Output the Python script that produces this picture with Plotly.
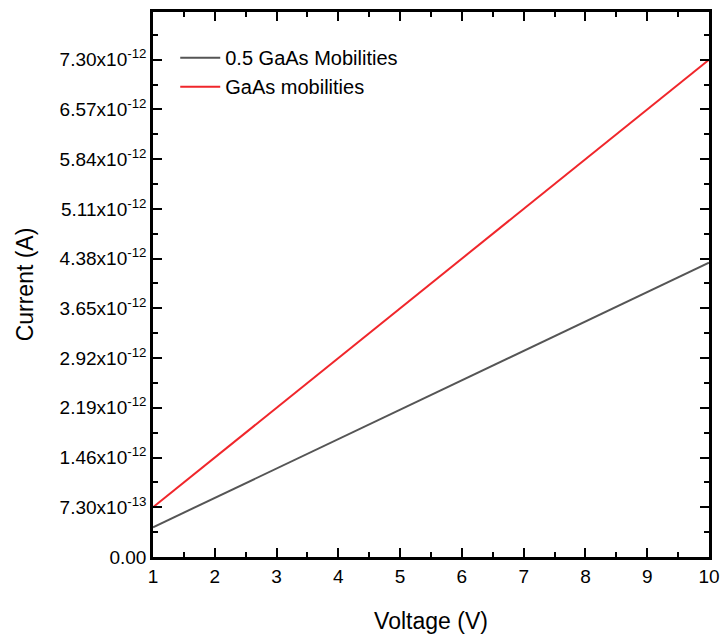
import plotly.graph_objects as go

# Bias voltage sweep (V)
voltage = [1, 2, 3, 4, 5, 6, 7, 8, 9, 10]

# Current (A) for the two mobility models
current_half_mobility = [0.436e-12, 0.868e-12, 1.299e-12, 1.731e-12, 2.162e-12,
                         2.594e-12, 3.025e-12, 3.457e-12, 3.888e-12, 4.320e-12]
current_gaas_mobility = [0.73e-12, 1.46e-12, 2.19e-12, 2.92e-12, 3.65e-12,
                         4.38e-12, 5.11e-12, 5.84e-12, 6.57e-12, 7.30e-12]

series_names = ["0.5 GaAs Mobilities", "GaAs mobilities"]

# Y-axis tick positions and labels
y_tick_vals = [0.0, 0.73e-12, 1.46e-12, 2.19e-12, 2.92e-12, 3.65e-12,
               4.38e-12, 5.11e-12, 5.84e-12, 6.57e-12, 7.30e-12]
y_tick_text = ["0.00", "7.30x10<sup>-13</sup>", "1.46x10<sup>-12</sup>",
               "2.19x10<sup>-12</sup>", "2.92x10<sup>-12</sup>", "3.65x10<sup>-12</sup>",
               "4.38x10<sup>-12</sup>", "5.11x10<sup>-12</sup>", "5.84x10<sup>-12</sup>",
               "6.57x10<sup>-12</sup>", "7.30x10<sup>-12</sup>"]
y_minor_vals = [0.365e-12 * k for k in range(1, 22, 2)]

FONT = "Liberation Sans, Arial, sans-serif"

fig = go.Figure()
fig.add_trace(go.Scatter(x=voltage, y=current_half_mobility, mode="lines",
                         name=series_names[0],
                         line=dict(color="#555555", width=2)))
fig.add_trace(go.Scatter(x=voltage, y=current_gaas_mobility, mode="lines",
                         name=series_names[1],
                         line=dict(color="#f0262b", width=2)))

axis_common = dict(
    showline=True, linecolor="black", linewidth=2.5, mirror="ticks",
    ticks="inside", ticklen=9, tickwidth=2, tickcolor="black",
    showgrid=False, zeroline=False, automargin=False,
    tickfont=dict(family=FONT, size=19, color="black"),
)

fig.update_xaxes(
    range=[1, 10], tickmode="linear", tick0=1, dtick=1,
    minor=dict(ticks="inside", ticklen=5, tickwidth=2, tickcolor="black",
               dtick=0.5, tick0=1, showgrid=False),
    title=dict(text="Voltage (V)", font=dict(family=FONT, size=23, color="black"),
               standoff=28),
    **axis_common,
)
fig.update_yaxes(
    range=[0, 8.0e-12], tickmode="array", tickvals=y_tick_vals, ticktext=y_tick_text,
    minor=dict(ticks="inside", ticklen=5, tickwidth=2, tickcolor="black",
               tickmode="array", tickvals=y_minor_vals, showgrid=False),
    title=dict(text="Current (A)", font=dict(family=FONT, size=23, color="black"),
               standoff=20),
    **axis_common,
)

fig.update_layout(
    width=723, height=638,
    margin=dict(l=153, r=14, t=12, b=81),
    paper_bgcolor="white", plot_bgcolor="white",
    showlegend=True,
    legend=dict(x=0.04, y=0.952, xanchor="left", yanchor="top",
                bgcolor="rgba(0,0,0,0)", borderwidth=0,
                font=dict(family=FONT, size=20, color="black"),
                itemwidth=40, tracegroupgap=0),
)

fig.write_html("out.html")
